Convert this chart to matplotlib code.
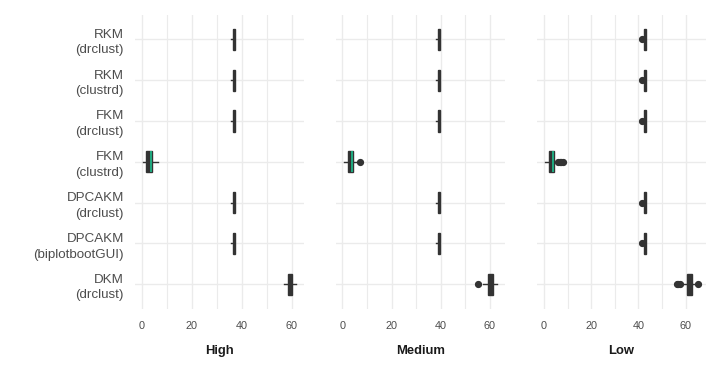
import matplotlib
matplotlib.use("Agg")
import matplotlib.pyplot as plt
import numpy as np

plt.rcParams['font.family'] = ['Liberation Sans', 'DejaVu Sans']

categories = ["RKM\n(drclust)", "RKM\n(clustrd)", "FKM\n(drclust)", "FKM\n(clustrd)",
              "DPCAKM\n(drclust)", "DPCAKM\n(biplotbootGUI)", "DKM\n(drclust)"]
panels = ["High", "Medium", "Low"]

# summary stats per panel, per category (top to bottom)
high_whislo = [35.8, 35.8, 35.8, 0.4, 35.8, 35.8, 56.8]
high_q1     = [36.5, 36.5, 36.5, 1.9, 36.5, 36.5, 58.4]
high_med    = [37.0, 37.0, 37.0, 3.8, 37.0, 37.0, 59.8]
high_q3     = [37.4, 37.4, 37.4, 4.2, 37.4, 37.4, 60.3]
high_whishi = [37.5, 37.5, 37.5, 6.6, 37.5, 37.5, 61.9]
high_fliers = [[], [], [], [], [], [], []]

med_whislo = [38.3, 38.3, 38.3, 0.5, 38.3, 38.3, 57.3]
med_q1     = [39.0, 39.0, 39.0, 2.2, 39.0, 39.0, 59.3]
med_med    = [39.5, 39.5, 39.5, 3.8, 39.5, 39.5, 60.5]
med_q3     = [39.8, 39.8, 39.8, 4.4, 39.8, 39.8, 61.2]
med_whishi = [39.9, 39.9, 39.9, 5.7, 39.9, 39.9, 63.1]
med_fliers = [[], [], [], [7.3], [], [], [55.2]]

low_whislo = [42.3, 42.3, 42.3, 0.3, 42.3, 42.3, 58.8]
low_q1     = [42.3, 42.3, 42.3, 2.0, 42.3, 42.3, 60.6]
low_med    = [42.8, 42.8, 42.8, 3.8, 42.8, 42.8, 61.8]
low_q3     = [43.2, 43.2, 43.2, 4.4, 43.2, 43.2, 62.7]
low_whishi = [43.2, 43.2, 43.2, 5.2, 43.2, 43.2, 64.7]
low_fliers = [[41.7], [41.7], [41.7], [5.8, 6.6, 7.4, 8.2], [41.7], [41.7], [56.2, 57.0, 57.6, 65.4]]

x_ticks = [0, 20, 40, 60]
x_minor = [10, 30, 50]

panel_data = [
    (high_whislo, high_q1, high_med, high_q3, high_whishi, high_fliers),
    (med_whislo, med_q1, med_med, med_q3, med_whishi, med_fliers),
    (low_whislo, low_q1, low_med, low_q3, low_whishi, low_fliers),
]

# style: median highlighted only where visible in the original
median_colors = ["#333333", "#333333", "#333333", "#1DBF8E", "#333333", "#333333", "#333333"]

W, H = 721, 379
fig = plt.figure(figsize=(W / 100, H / 100), dpi=100)
lefts = [135, 336, 537]
pw = 169
top, bottom = 14.8, 308.8
dark = "#333333"

for pi, (name, data, left) in enumerate(zip(panels, panel_data, lefts)):
    ax = fig.add_axes([left / W, 1 - bottom / H, pw / W, (bottom - top) / H])
    whislo, q1, med, q3, whishi, fliers = data
    stats = []
    for i in range(len(categories)):
        stats.append(dict(whislo=whislo[i], q1=q1[i], med=med[i], q3=q3[i],
                          whishi=whishi[i], fliers=fliers[i], label=categories[i]))
    positions = np.arange(1, len(categories) + 1)
    res = ax.bxp(stats, positions=positions, widths=0.52, orientation='horizontal',
                 patch_artist=True, showcaps=False,
                 boxprops=dict(facecolor=dark, edgecolor=dark, linewidth=1.0),
                 whiskerprops=dict(color=dark, linewidth=1.0),
                 medianprops=dict(color=dark, linewidth=1.2),
                 flierprops=dict(marker='o', markerfacecolor=dark, markeredgecolor=dark,
                                 markersize=4.2, linestyle='none'))
    for m, c in zip(res['medians'], median_colors):
        m.set_color(c)
        m.set_zorder(5)
    allv = [v for v in whislo + whishi] + [f for fl in fliers for f in fl]
    lo, hi = min(allv), max(allv)
    rng = hi - lo
    ax.set_xlim(lo - 0.05 * rng, hi + 0.05 * rng)
    ax.set_ylim(len(categories) + 0.6, 0.4)
    ax.set_xticks(x_ticks)
    ax.set_xticks(x_minor, minor=True)
    ax.set_xticklabels([str(t) for t in x_ticks])
    ax.grid(True, which='major', color='#ebebeb', linewidth=1.0)
    ax.grid(True, which='minor', axis='x', color='#ebebeb', linewidth=0.8)
    ax.set_axisbelow(True)
    for s in ax.spines.values():
        s.set_visible(False)
    ax.tick_params(axis='both', which='both', length=0, colors='#4d4d4d')
    ax.tick_params(axis='x', labelsize=7.8, pad=9)
    if pi == 0:
        ax.set_yticks(positions)
        ax.set_yticklabels(categories, fontsize=9.6, color='#4d4d4d', linespacing=1.4)
        ax.tick_params(axis='y', pad=8)
    else:
        ax.set_yticks(positions)
        ax.set_yticklabels([])
    ax.set_xlabel(name, fontsize=9.4, fontweight='bold', color='#1a1a1a', labelpad=10)

fig.savefig("out.png", dpi=100)
